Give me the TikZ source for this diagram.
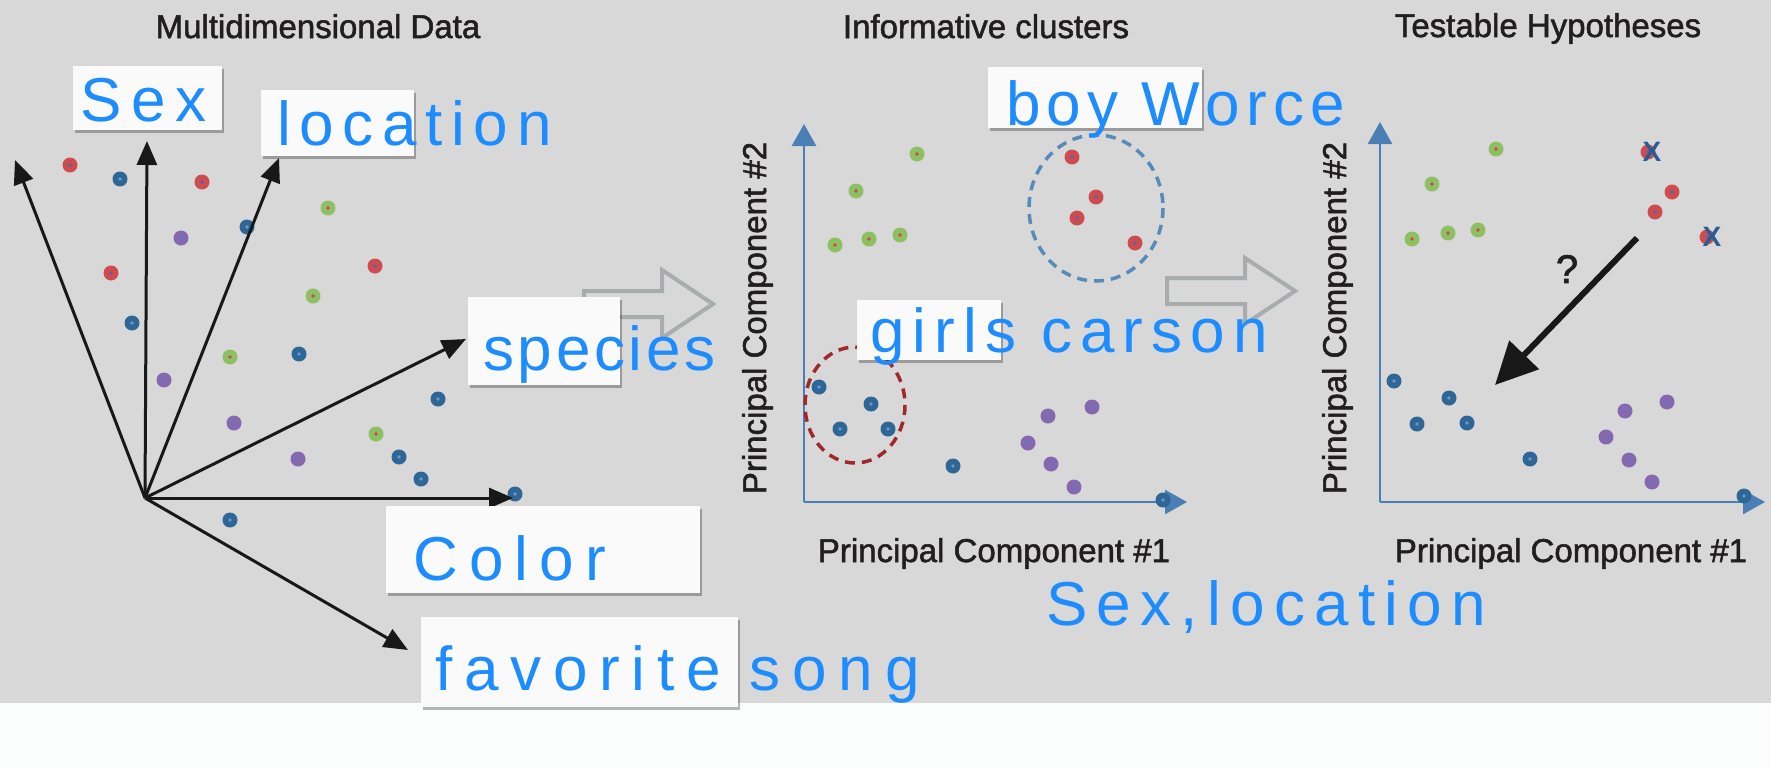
\documentclass[tikz,border=0pt]{standalone}
\usepackage{fontspec}
\setmainfont{Liberation Sans}
\newfontfamily\handfont{Liberation Sans}
\newfontfamily\ttlfont[FakeBold=1.6]{Liberation Sans}
\usetikzlibrary{arrows.meta,shadows}
\definecolor{bg}{RGB}{216,216,216}
\definecolor{lowbg}{RGB}{251,253,253}
\definecolor{boxw}{RGB}{250,250,250}
\definecolor{hand}{RGB}{28,140,255}
\definecolor{ink}{RGB}{32,30,30}
\definecolor{ink2}{RGB}{24,24,24}
\definecolor{axisc}{RGB}{74,126,180}
\definecolor{garr}{RGB}{168,172,172}
\definecolor{dr}{RGB}{204,76,80}
\definecolor{drc}{RGB}{90,100,170}
\definecolor{db}{RGB}{46,102,150}
\definecolor{dbc}{RGB}{110,150,200}
\definecolor{dg}{RGB}{140,192,98}
\definecolor{dgc}{RGB}{210,70,70}
\definecolor{dp}{RGB}{134,104,176}
\definecolor{dpc}{RGB}{100,120,190}
\definecolor{circb}{RGB}{88,138,186}
\definecolor{circr}{RGB}{160,40,42}
\definecolor{xblue}{RGB}{40,92,150}
\newcommand{\mydot}[3]{\fill[#1] (#2,#3) circle[radius=7.5]; \fill[#1c] (#2,#3) circle[radius=1.8];}
\tikzset{
  wbox/.style={fill=boxw, draw=none, inner sep=0pt,
    drop shadow={shadow xshift=1.5pt, shadow yshift=-3pt, opacity=0.28, fill=black}},
  hw/.style={text=hand, anchor=base west, inner sep=0pt, font=\handfont\fontsize{62}{62}\selectfont},
  ttl/.style={anchor=base, inner sep=0pt, text=ink, font=\ttlfont\fontsize{33}{33}\selectfont},
  blk/.style={draw=ink2, line width=3pt, -{Triangle[length=24pt,width=20pt]}},
  axisline/.style={draw=axisc, line width=2.5pt, -{Triangle[length=22pt,width=24pt]}},
  blockarrow/.style={draw=garr, line width=4pt, line join=miter},
  dashcirc/.style={line width=3.5pt, dash pattern=on 10pt off 7pt},
  xmark/.style={inner sep=0pt, text=xblue, font=\bfseries\fontsize{28}{28}\selectfont},
}
\begin{document}
\begin{tikzpicture}[x=1pt,y=-1pt]
\useasboundingbox (0,0) rectangle (1771,768);
\fill[bg] (0,0) rectangle (1771,703);
\fill[lowbg] (0,703) rectangle (1771,768);

% titles
\node[ttl] (t1) at (318,38) {Multidimensional Data};
\node[ttl] (t2) at (986,38) {Informative clusters};
\node[ttl] (t3) at (1548,37) {Testable Hypotheses};

% ---------- left panel dots
\foreach \x/\y in {70/165,202/182,111/273,375/266} {\mydot{dr}{\x}{\y}}
\foreach \x/\y in {120/179,247/227,132/323,299/354,438/399,399/457,421/479,515/494,230/520} {\mydot{db}{\x}{\y}}
\foreach \x/\y in {328/208,313/296,230/357,376/434} {\mydot{dg}{\x}{\y}}
\foreach \x/\y in {181/238,164/380,234/423,298/459} {\mydot{dp}{\x}{\y}}

% left panel arrows
\coordinate (o) at (145,498);
\coordinate (a1) at (15,160);
\coordinate (a2) at (147,141);
\coordinate (a3) at (279,158);
\coordinate (a4) at (466,339);
\coordinate (a5) at (513,498);
\coordinate (a6) at (408,650);
\foreach \t in {a1,a2,a3,a4,a5,a6} {\draw[blk] (o) -- (\t);}

% block arrows between panels
\draw[blockarrow] (584,291) -- (662,291) -- (662,270) -- (713,304) -- (662,338) -- (662,317) -- (584,317) -- cycle;
\draw[blockarrow] (1167,278) -- (1245,278) -- (1245,258) -- (1295,291) -- (1245,324) -- (1245,304) -- (1167,304) -- cycle;

% ---------- middle panel
\coordinate (m0) at (804,502);
\coordinate (my) at (804,124);
\coordinate (mx) at (1187,502);
\draw[axisline] (m0) -- (my);
\draw[axisline] (m0) -- (mx);
\node[ttl, rotate=90] (mylab) at (766,318) {Principal Component \#2};
\node[ttl] (mxlab) at (994,562) {Principal Component \#1};
\foreach \x/\y in {917/154,856/191,835/245,869/239,900/235} {\mydot{dg}{\x}{\y}}
\foreach \x/\y in {1072/157,1096/197,1077/218,1135/243} {\mydot{dr}{\x}{\y}}
\foreach \x/\y in {819/387,871/404,840/429,888/429,953/466,1163/500} {\mydot{db}{\x}{\y}}
\foreach \x/\y in {1092/407,1048/416,1028/443,1051/464,1074/487} {\mydot{dp}{\x}{\y}}
\draw[dashcirc, circb] (1096,208) ellipse[x radius=67, y radius=73];
\draw[dashcirc, circr] (855,405) ellipse[x radius=50, y radius=58];

% ---------- right panel
\coordinate (r0) at (1380,502);
\coordinate (ry) at (1380,122);
\coordinate (rx) at (1765,502);
\draw[axisline] (r0) -- (ry);
\draw[axisline] (r0) -- (rx);
\node[ttl, rotate=90] (rylab) at (1346,318) {Principal Component \#2};
\node[ttl] (rxlab) at (1571,562) {Principal Component \#1};
\foreach \x/\y in {1496/149,1432/184,1412/239,1448/233,1478/230} {\mydot{dg}{\x}{\y}}
\foreach \x/\y in {1672/192,1655/212,1648/152,1707/237} {\mydot{dr}{\x}{\y}}
\foreach \x/\y in {1394/381,1449/398,1417/424,1467/423,1530/459,1744/496} {\mydot{db}{\x}{\y}}
\foreach \x/\y in {1667/402,1625/411,1606/437,1629/460,1652/482} {\mydot{dp}{\x}{\y}}
\node[xmark] (x1) at (1652,152) {X};
\node[xmark] (x2) at (1712,237) {X};
\coordinate (qs) at (1637,238);
\coordinate (qe) at (1495,385);
\draw[draw=ink2, line width=6pt, -{Triangle[length=42pt,width=40pt]}] (qs) -- (qe);
\node[inner sep=0pt, text=ink, font=\ttlfont\fontsize{40}{40}\selectfont] (q) at (1567,269) {?};

% ---------- white note boxes
\node[wbox, minimum width=149pt, minimum height=64pt] (bsex) at (147.5,98) {};
\node[wbox, minimum width=153pt, minimum height=66pt] (bloc) at (337.5,123) {};
\node[wbox, minimum width=152pt, minimum height=88pt] (bspe) at (544,341) {};
\node[wbox, minimum width=314pt, minimum height=87pt] (bcol) at (543,549.5) {};
\node[wbox, minimum width=317pt, minimum height=90pt] (bfav) at (579.5,662) {};
\node[wbox, minimum width=144pt, minimum height=60pt] (bgir) at (929,330) {};
\node[wbox, minimum width=214pt, minimum height=61pt] (bboy) at (1095,97.5) {};

% ---------- handwriting
\node[hw] (hsex) at (80,121) {\addfontfeatures{LetterSpace=16}Sex};
\node[hw] (hloc) at (277,145) {\addfontfeatures{LetterSpace=14}location};
\node[hw] (hspe) at (483,370) {\addfontfeatures{LetterSpace=6}species};
\node[hw] (hcol) at (413,580) {\addfontfeatures{LetterSpace=18}Color};
\node[hw] (hfav) at (435,690) {\addfontfeatures{LetterSpace=19}favorite song};
\node[hw] (hgir) at (870,352) {\addfontfeatures{LetterSpace=13}girls carson};
\node[hw] (hboy) at (1006,125) {\addfontfeatures{LetterSpace=10}boy Worce};
\node[hw] (hsl) at (1046,625) {\addfontfeatures{LetterSpace=15}Sex,location};
\end{tikzpicture}
\end{document}
